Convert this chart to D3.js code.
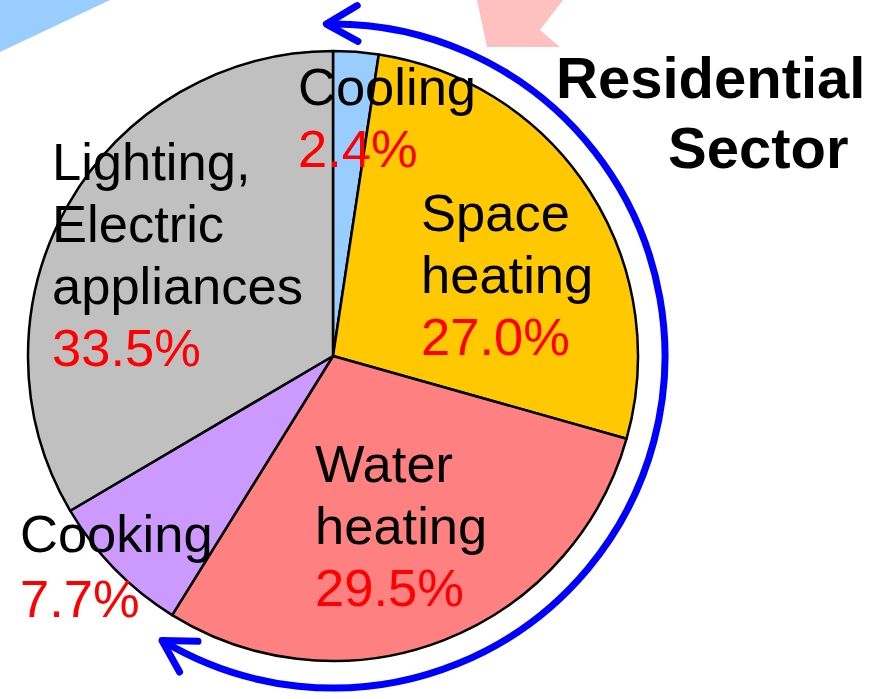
<!DOCTYPE html>
<html>
<head>
<meta charset="utf-8">
<script src="https://cdn.jsdelivr.net/npm/d3@7"></script>
<style>
  body { margin: 0; background: #fff; }
  svg { display: block; font-family: "Liberation Sans", Arial, sans-serif; }
</style>
</head>
<body>
<div id="chart"></div>
<script>
// residential sector energy use by end use
var categories = ["Cooling", "Space heating", "Water heating", "Cooking", "Lighting, Electric appliances"];
var shares = [2.4, 27.0, 29.5, 7.7, 33.5];
var labelLines = [["Cooling"], ["Space", "heating"], ["Water", "heating"], ["Cooking"], ["Lighting,", "Electric", "appliances"]];
var colors = ["#99CCFF", "#FFC800", "#FF8080", "#CC99FF", "#C0C0C0"];

// where each label block starts (left x, first baseline)
var labelPos = [[298, 105], [421, 231], [315, 482], [20, 552], [52, 180]];

var width = 884, height = 699;
var cx = 333, cy = 356, radius = 305;

var svg = d3.select("#chart").append("svg")
  .attr("width", width)
  .attr("height", height);

// background shapes from the slide cut off at the top
svg.append("polygon")
  .attr("points", "0,0 110,0 0,52")
  .attr("fill", "#99CCFF");
svg.append("polygon")
  .attr("points", "477,0 563,0 540,30 560,47 487,47")
  .attr("fill", "#FFC0C0");

var g = svg.append("g").attr("transform", "translate(" + cx + "," + cy + ")");

var pie = d3.pie().sort(null).value(function(d) { return d; });
var arc = d3.arc().innerRadius(0).outerRadius(radius);

g.selectAll(".slice")
  .data(pie(shares))
  .enter().append("path")
    .attr("class", "slice")
    .attr("d", arc)
    .attr("fill", function(d, i) { return colors[i]; })
    .attr("stroke", "#000")
    .attr("stroke-width", 2.5)
    .attr("stroke-linejoin", "round");

// labels
var lineH = 62;
categories.forEach(function(c, i) {
  var x = labelPos[i][0], y = labelPos[i][1];
  var lines = labelLines[i];
  var t = svg.append("text").attr("font-size", "52.5px");
  lines.forEach(function(l, j) {
    t.append("tspan").attr("x", x).attr("y", y + j * lineH).attr("fill", "#000").text(l);
  });
  t.append("tspan").attr("x", x).attr("y", y + lines.length * lineH + (i == 3 ? 3 : 0))
    .attr("fill", "#FF0000").text(shares[i].toFixed(1) + "%");
});

// double headed blue arc around the pie
var arcR = 332;
var a0 = -0.02, a1 = 211 * Math.PI / 180;
var p = d3.path();
p.arc(0, 0, arcR, a0 - Math.PI / 2, a1 - Math.PI / 2, false);
g.append("path")
  .attr("d", p.toString())
  .attr("fill", "none")
  .attr("stroke", "#0000FF")
  .attr("stroke-width", 7);

function headAt(a, dir) {
  // tip on the circle, arms pointing back along the tangent
  var tx = arcR * Math.sin(a), ty = -arcR * Math.cos(a);
  var ux = Math.cos(a) * dir, uy = Math.sin(a) * dir;
  var len = 36, spread = 0.52;
  var pts = [-spread, spread].map(function(s) {
    var c = Math.cos(s), sn = Math.sin(s);
    var bx = -(ux * c - uy * sn), by = -(ux * sn + uy * c);
    return [tx + bx * len, ty + by * len];
  });
  g.append("path")
    .attr("d", "M" + pts[0] + "L" + [tx, ty] + "L" + pts[1])
    .attr("fill", "none")
    .attr("stroke", "#0000FF")
    .attr("stroke-width", 7)
    .attr("stroke-linecap", "round")
    .attr("stroke-linejoin", "round");
}
headAt(a0, -1);
headAt(a1, 1);

svg.append("text")
  .attr("font-size", "58px").attr("font-weight", "bold")
  .attr("x", 556).attr("y", 98).text("Residential");
svg.append("text")
  .attr("font-size", "58px").attr("font-weight", "bold")
  .attr("x", 668).attr("y", 168).text("Sector");
</script>
</body>
</html>
